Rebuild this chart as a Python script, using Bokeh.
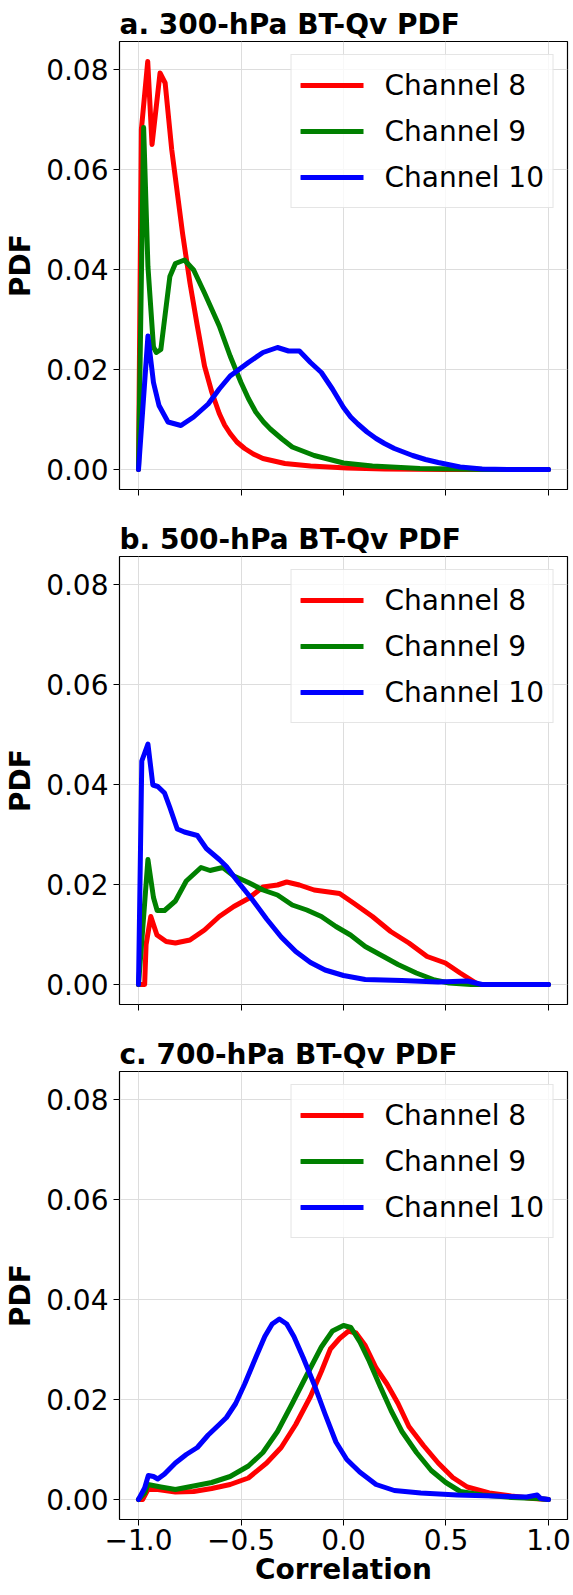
from bokeh.plotting import figure
from bokeh.layouts import column
from bokeh.models import (Range1d, FixedTicker, NumeralTickFormatter, CustomJSTickFormatter,
                          Legend, LegendItem)
from bokeh.embed import file_html
from bokeh.resources import INLINE

# ---------------- data ----------------
titles = ["a. 300-hPa BT-Qv PDF", "b. 500-hPa BT-Qv PDF", "c. 700-hPa BT-Qv PDF"]
labels = ["Channel 8", "Channel 9", "Channel 10"]
colors = ["#ff0000", "#008000", "#0000ff"]
x_ticks = [-1.0, -0.5, 0.0, 0.5, 1.0]
y_ticks = [0.0, 0.02, 0.04, 0.06, 0.08]

# panel a (300 hPa)
a_x8 = [-1.0, -0.986, -0.955, -0.934, -0.895, -0.87, -0.838, -0.785, -0.749, -0.713, -0.678, -0.642,
        -0.606, -0.58, -0.553, -0.52, -0.482, -0.44, -0.393, -0.286, -0.161, 0.017, 0.2, 0.5, 1.0]
a_y8 = [0.0, 0.068, 0.0816, 0.065, 0.0793, 0.0773, 0.0640, 0.0472, 0.0373, 0.0287, 0.0207, 0.0154,
        0.0112, 0.0089, 0.0072, 0.0055, 0.0042, 0.0031, 0.0022, 0.0012, 0.0007, 0.0003, 0.0001, 0.0, 0.0]
a_x9 = [-1.0, -0.975, -0.954, -0.927, -0.913, -0.891, -0.87, -0.847, -0.82, -0.776, -0.731, -0.678,
        -0.606, -0.553, -0.5, -0.464, -0.428, -0.39, -0.357, -0.3, -0.25, -0.143, 0.0, 0.141, 0.373,
        0.55, 0.7, 1.0]
a_y9 = [0.0, 0.0684, 0.0406, 0.0245, 0.0234, 0.024, 0.031, 0.0386, 0.0412, 0.0419, 0.0399, 0.0353,
        0.0287, 0.0227, 0.0174, 0.0142, 0.0115, 0.0095, 0.0081, 0.0061, 0.0045, 0.0028, 0.0013, 0.0007,
        0.0002, 0.0001, 0.0, 0.0]
a_x10 = [-1.0, -0.954, -0.927, -0.9, -0.856, -0.793, -0.731, -0.66, -0.606, -0.553, -0.464, -0.393,
         -0.322, -0.268, -0.215, -0.161, -0.108, -0.054, 0.0, 0.035, 0.07, 0.115, 0.159, 0.2, 0.248,
         0.337, 0.4, 0.462, 0.569, 0.676, 0.8, 1.0]
a_y10 = [0.0, 0.0267, 0.0174, 0.0128, 0.0095, 0.0088, 0.0105, 0.0131, 0.0161, 0.0187, 0.0214, 0.0234,
         0.0244, 0.0237, 0.0237, 0.0214, 0.0194, 0.0161, 0.0124, 0.0105, 0.0091, 0.0075, 0.0062, 0.0052,
         0.0042, 0.0028, 0.002, 0.0014, 0.0005, 0.0001, 0.0, 0.0]

# panel b (500 hPa)
b_x8 = [-1.0, -0.97, -0.963, -0.94, -0.91, -0.865, -0.82, -0.749, -0.678, -0.606, -0.535, -0.464,
        -0.393, -0.322, -0.277, -0.215, -0.143, -0.072, -0.019, 0.052, 0.141, 0.23, 0.319, 0.408,
        0.497, 0.569, 0.631, 0.658, 0.8, 1.0]
b_y8 = [0.0, 0.0, 0.008, 0.0136, 0.0099, 0.0086, 0.0083, 0.0089, 0.0109, 0.0136, 0.0156, 0.0172,
        0.0195, 0.0199, 0.0205, 0.0199, 0.0189, 0.0185, 0.0182, 0.0162, 0.0136, 0.0106, 0.0083, 0.0056,
        0.0043, 0.0023, 0.0007, 0.0, 0.0, 0.0]
b_x9 = [-1.0, -0.954, -0.927, -0.909, -0.873, -0.82, -0.767, -0.695, -0.651, -0.589, -0.535, -0.464,
        -0.393, -0.322, -0.25, -0.179, -0.108, -0.037, 0.034, 0.106, 0.195, 0.266, 0.355, 0.444, 0.515,
        0.622, 0.8, 1.0]
b_y9 = [0.0, 0.025, 0.0174, 0.0148, 0.0148, 0.0167, 0.0207, 0.0234, 0.0228, 0.0234, 0.0217, 0.0204,
        0.0189, 0.0179, 0.0159, 0.0149, 0.0136, 0.0116, 0.0099, 0.0076, 0.0056, 0.004, 0.0023, 0.0009,
        0.0003, 0.0, 0.0, 0.0]
b_x10 = [-1.0, -0.984, -0.954, -0.93, -0.906, -0.873, -0.847, -0.811, -0.776, -0.713, -0.669, -0.606,
         -0.571, -0.518, -0.447, -0.375, -0.304, -0.233, -0.161, -0.09, 0.0, 0.106, 0.284, 0.462, 0.604,
         0.676, 0.8, 1.0]
b_y10 = [0.0, 0.0447, 0.0481, 0.0399, 0.0396, 0.0383, 0.0354, 0.0311, 0.0305, 0.0298, 0.0272, 0.025,
         0.0236, 0.0207, 0.0171, 0.0131, 0.0095, 0.0066, 0.0044, 0.0029, 0.0018, 0.001, 0.0008, 0.0005,
         0.0007, 0.0, 0.0, 0.0]

# panel c (700 hPa)
c_x8 = [-1.0, -0.98, -0.954, -0.906, -0.82, -0.731, -0.643, -0.553, -0.464, -0.375, -0.304, -0.233,
        -0.161, -0.108, -0.064, -0.019, 0.025, 0.061, 0.106, 0.159, 0.212, 0.266, 0.319, 0.39, 0.462,
        0.533, 0.604, 0.711, 0.818, 0.925, 1.0]
c_y8 = [0.0, 0.0, 0.002, 0.002, 0.0015, 0.0016, 0.0022, 0.003, 0.0043, 0.0073, 0.0104, 0.015, 0.0206,
        0.0256, 0.0301, 0.0322, 0.0337, 0.0333, 0.0308, 0.0263, 0.0231, 0.0192, 0.0146, 0.0108, 0.0073,
        0.0044, 0.0025, 0.0013, 0.0007, 0.0002, 0.0]
c_x9 = [-1.0, -0.97, -0.954, -0.891, -0.82, -0.731, -0.643, -0.553, -0.464, -0.393, -0.322, -0.25,
        -0.179, -0.108, -0.054, 0.0, 0.036, 0.08, 0.125, 0.178, 0.232, 0.285, 0.356, 0.428, 0.499, 0.57,
        0.677, 0.82, 0.944, 1.0]
c_y9 = [0.0, 0.0013, 0.003, 0.0025, 0.002, 0.0027, 0.0034, 0.0046, 0.0067, 0.0094, 0.0136, 0.0192,
        0.0249, 0.0305, 0.0337, 0.0348, 0.0344, 0.0315, 0.0277, 0.0227, 0.0178, 0.0136, 0.0094, 0.0058,
        0.0034, 0.0016, 0.0009, 0.0004, 0.0002, 0.0]
c_x10 = [-1.0, -0.97, -0.952, -0.927, -0.906, -0.873, -0.82, -0.767, -0.713, -0.66, -0.606, -0.571,
         -0.526, -0.482, -0.428, -0.384, -0.348, -0.313, -0.277, -0.242, -0.197, -0.144, -0.09, -0.037,
         0.016, 0.079, 0.159, 0.248, 0.377, 0.555, 0.733, 0.893, 0.945, 0.962, 1.0]
c_y10 = [0.0, 0.0023, 0.0048, 0.0046, 0.0041, 0.0051, 0.0073, 0.009, 0.0104, 0.0129, 0.015, 0.0164,
         0.0192, 0.0231, 0.0284, 0.0326, 0.0351, 0.0361, 0.0351, 0.0326, 0.0284, 0.0231, 0.0171, 0.0115,
         0.008, 0.0055, 0.003, 0.0018, 0.0013, 0.0009, 0.0007, 0.0005, 0.0009, 0.0002, 0.0]

panels = [
    [(a_x8, a_y8), (a_x9, a_y9), (a_x10, a_y10)],
    [(b_x8, b_y8), (b_x9, b_y9), (b_x10, b_y10)],
    [(c_x8, c_y8), (c_x9, c_y9), (c_x10, c_y10)],
]

FONT = "DejaVu Sans"
fig_heights = [516, 515, 564]
tops = [41, 40, 40]
bottoms = [27, 27, 76]

figs = []
for i in range(3):
    last = (i == 2)
    p = figure(width=573, height=fig_heights[i], output_backend="svg", toolbar_location=None,
               x_range=Range1d(-1.0927, 1.0927), y_range=Range1d(-0.0040, 0.0856),
               min_border_left=119, min_border_right=6, min_border_top=tops[i],
               min_border_bottom=bottoms[i], title=titles[i])
    p.title.text_font = FONT
    p.title.text_font_size = "28px"
    p.title.text_font_style = "bold"
    p.title.text_color = "black"
    p.title.align = "left"
    p.title.standoff = 2
    p.title.offset = 0

    p.outline_line_color = "black"
    p.outline_line_width = 1.2
    p.background_fill_color = "white"
    p.border_fill_color = "white"

    p.xgrid.grid_line_color = "#dddddd"
    p.ygrid.grid_line_color = "#dddddd"
    p.xgrid.ticker = FixedTicker(ticks=x_ticks)
    p.ygrid.ticker = FixedTicker(ticks=y_ticks)

    for ax in (p.xaxis[0], p.yaxis[0]):
        ax.axis_line_color = None
        ax.major_tick_out = 6
        ax.major_tick_in = 0
        ax.minor_tick_line_color = None
        ax.major_tick_line_color = "black"
        ax.major_label_text_font = FONT
        ax.major_label_text_font_size = "28px"
        ax.major_label_text_color = "black"
        ax.axis_label_text_font = FONT
        ax.axis_label_text_font_size = "28px"
        ax.axis_label_text_font_style = "bold"
        ax.axis_label_text_color = "black"

    p.yaxis.ticker = FixedTicker(ticks=y_ticks)
    p.yaxis.formatter = NumeralTickFormatter(format="0.00")
    p.yaxis.major_label_standoff = 5
    p.yaxis.axis_label = "PDF"
    p.yaxis.axis_label_standoff = 6

    p.xaxis.ticker = FixedTicker(ticks=x_ticks)
    if last:
        p.xaxis.formatter = CustomJSTickFormatter(
            code="return (tick < 0 ? '\\u2212' : '') + Math.abs(tick).toFixed(1);")
        p.xaxis.major_label_standoff = 3
        p.xaxis.axis_label = "Correlation"
        p.xaxis.axis_label_standoff = 0
    else:
        p.xaxis.formatter = CustomJSTickFormatter(code="return '';")
        p.xaxis.major_label_text_font_size = "0px"
        p.xaxis.major_label_standoff = 0

    items = []
    for (xs, ys), lab, col in zip(panels[i], labels, colors):
        r = p.line(xs, ys, line_color=col, line_width=5, line_join="round", line_cap="round")
        items.append(LegendItem(label=lab, renderers=[r]))

    leg = Legend(items=items, location="top_right")
    leg.label_text_font = FONT
    leg.label_text_font_size = "28px"
    leg.label_text_color = "black"
    leg.glyph_width = 63
    leg.glyph_height = 42
    leg.label_height = 42
    leg.spacing = 4
    leg.padding = 9
    leg.margin = 13
    leg.label_standoff = 21
    leg.border_line_color = "#cccccc"
    leg.border_line_width = 1
    leg.background_fill_color = "white"
    leg.background_fill_alpha = 0.8
    p.add_layout(leg)
    figs.append(p)

layout = column(*figs, spacing=0)
open("out.html", "w").write(file_html(layout, INLINE))
